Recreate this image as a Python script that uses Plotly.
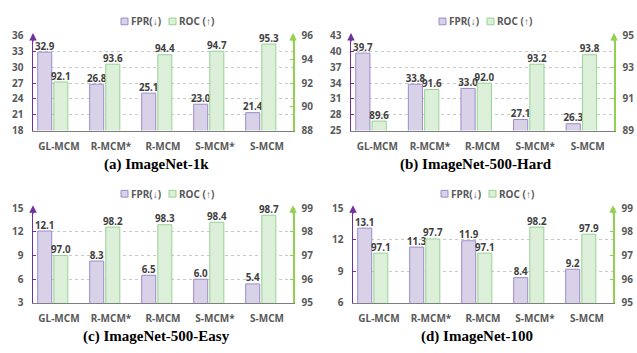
import plotly.graph_objects as go

categories = ["GL-MCM", "R-MCM*", "R-MCM", "S-MCM*", "S-MCM"]

fpr_a = [32.9, 26.8, 25.1, 23.0, 21.4]
roc_a = [92.1, 93.6, 94.4, 94.7, 95.3]
fpr_b = [39.7, 33.8, 33.0, 27.1, 26.3]
roc_b = [89.6, 91.6, 92.0, 93.2, 93.8]
fpr_c = [12.1, 8.3, 6.5, 6.0, 5.4]
roc_c = [97.0, 98.2, 98.3, 98.4, 98.7]
fpr_d = [13.1, 11.3, 11.9, 8.4, 9.2]
roc_d = [97.1, 97.7, 97.1, 98.2, 97.9]

series_names = ["FPR(↓)", "ROC (↑)"]
titles = ["(a) ImageNet-1k", "(b) ImageNet-500-Hard",
          "(c) ImageNet-500-Easy", "(d) ImageNet-100"]
left_ranges = [(18, 36), (25, 43), (3, 15), (6, 15)]
right_ranges = [(88, 96), (89, 95), (95, 99), (95, 99)]
right_dticks = [2, 2, 1, 1]

W, H = 637, 353
# pixel boxes (left, right, top, bottom)
boxes = [(33, 293, 29, 128), (351, 614, 29, 128),
         (33, 293, 209, 308), (353, 613, 209, 308)]
legend_y = [14, 14, 194, 194]
title_y = [163, 163, 343, 343]

FPR_FILL, FPR_LINE = "#D8D1E8", "#9A8CC9"
ROC_FILL, ROC_LINE = "#DCEFD9", "#97D393"
PURPLE, GREEN = "#7030A0", "#92D050"
TXT = "#595959"

fprs = [fpr_a, fpr_b, fpr_c, fpr_d]
rocs = [roc_a, roc_b, roc_c, roc_d]

bw = 0.27
off_f = -0.41
off_r = -0.10

fig = go.Figure()
layout = {}
annotations = []
shapes = []
idx = list(range(len(categories)))
tickfont = dict(family="Noto Sans", size=10, color=TXT, weight="bold")
labfont = dict(family="Noto Sans", size=9.8, color="#404040", weight="bold")

for i in range(4):
    xa = "x" if i == 0 else f"x{i+1}"
    yl = f"y{2*i+1}" if i > 0 else "y"
    yr = f"y{2*i+2}"
    L, R, T, B = boxes[i]
    fig.add_trace(go.Bar(x=idx, y=fprs[i], name=series_names[0], xaxis=xa, yaxis=yl,
                         width=bw, offset=off_f, showlegend=False,
                         marker=dict(color=FPR_FILL, line=dict(color=FPR_LINE, width=1)),
                         hoverinfo="skip"))
    fig.add_trace(go.Bar(x=idx, y=rocs[i], name=series_names[1], xaxis=xa, yaxis=yr,
                         width=bw, offset=off_r, showlegend=False,
                         marker=dict(color=ROC_FILL, line=dict(color=ROC_LINE, width=1)),
                         hoverinfo="skip"))
    fig.add_trace(go.Scatter(x=[k + off_f + bw / 2 for k in idx], y=fprs[i],
                             text=[f"{v:.1f}" for v in fprs[i]], mode="text",
                             textposition="top center", cliponaxis=False, textfont=labfont,
                             xaxis=xa, yaxis=yl, showlegend=False, hoverinfo="skip"))
    fig.add_trace(go.Scatter(x=[k + off_r + bw / 2 for k in idx], y=rocs[i],
                             text=[f"{v:.1f}" for v in rocs[i]], mode="text",
                             textposition="top center", cliponaxis=False, textfont=labfont,
                             xaxis=xa, yaxis=yr, showlegend=False, hoverinfo="skip"))

    xdom = [L / W, R / W]
    ydom = [1 - B / H, 1 - T / H]
    xkey = "xaxis" if i == 0 else f"xaxis{i+1}"
    ylkey = "yaxis" if i == 0 else f"yaxis{2*i+1}"
    yrkey = f"yaxis{2*i+2}"
    layout[xkey] = dict(domain=xdom, anchor=yl, range=[-0.5, len(categories) - 0.5],
                        tickvals=idx, ticktext=categories, showgrid=False,
                        showline=True, linecolor="#7F7F7F", linewidth=1.2,
                        ticks="", tickfont=tickfont, ticklabelstandoff=6,
                        zeroline=False, fixedrange=True)
    lo, hi = left_ranges[i]
    layout[ylkey] = dict(domain=ydom, anchor=xa, range=[lo, hi], dtick=3, tick0=lo,
                         showgrid=True, gridcolor="#C8C8C8", griddash="dot", gridwidth=1,
                         showline=True, linecolor=PURPLE, linewidth=1.5,
                         ticks="inside", ticklen=3, tickcolor=PURPLE,
                         tickfont=tickfont, ticklabelstandoff=6, zeroline=False)
    rlo, rhi = right_ranges[i]
    layout[yrkey] = dict(overlaying=yl, side="right", anchor=xa, range=[rlo, rhi],
                         dtick=right_dticks[i], tick0=rlo, showgrid=False,
                         showline=True, linecolor=GREEN, linewidth=1.5,
                         ticks="inside", ticklen=3, tickcolor=GREEN,
                         tickfont=tickfont, ticklabelstandoff=5, zeroline=False)

    # legend (icon squares + text)
    ly = legend_y[i]
    for j, (fill, line) in enumerate([(FPR_FILL, FPR_LINE), (ROC_FILL, ROC_LINE)]):
        ix = L + 88 + 48 * j
        shapes.append(dict(type="rect", xref="paper", yref="paper",
                           x0=ix / W, x1=(ix + 7) / W, y0=1 - (ly + 3.5) / H, y1=1 - (ly - 3.5) / H,
                           fillcolor=fill, line=dict(color=line, width=1)))
        annotations.append(dict(text=series_names[j], xref="paper", yref="paper",
                                x=(ix + 8) / W, y=1 - ly / H, xanchor="left", yanchor="middle",
                                showarrow=False,
                                font=dict(family="Noto Sans", size=10, color=TXT, weight="bold")))

    annotations.append(dict(text=f"<b>{titles[i]}</b>", xref="paper", yref="paper",
                            x=(L + R) / 2 / W - 0.01, y=1 - title_y[i] / H,
                            xanchor="center", yanchor="middle", showarrow=False,
                            font=dict(family="Liberation Serif", size=15, color="black")))
    annotations.append(dict(x=0, y=1.03, xref=f"{xa} domain", yref=f"{yl} domain",
                            showarrow=True, ax=0, ay=10, arrowhead=2, arrowsize=1,
                            arrowwidth=1.5, arrowcolor=PURPLE, text=""))
    annotations.append(dict(x=1, y=1.03, xref=f"{xa} domain", yref=f"{yr} domain",
                            showarrow=True, ax=0, ay=10, arrowhead=2, arrowsize=1,
                            arrowwidth=1.5, arrowcolor=GREEN, text=""))

fig.update_layout(**layout)
fig.update_layout(width=W, height=H, margin=dict(l=0, r=0, t=0, b=0),
                  paper_bgcolor="white", plot_bgcolor="white",
                  barmode="overlay", annotations=annotations, shapes=shapes,
                  showlegend=False, hovermode=False)
fig.write_html("out.html", config={"displayModeBar": False, "staticPlot": True},
               post_script="document.body.style.margin='0';document.body.style.padding='0';")
